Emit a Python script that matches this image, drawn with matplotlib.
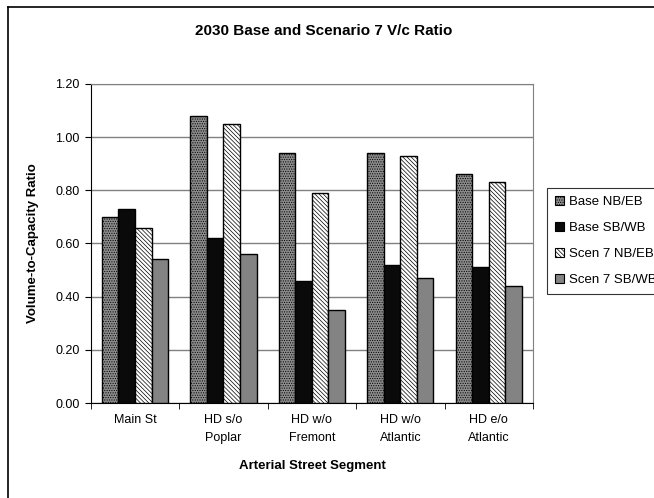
import matplotlib
matplotlib.use("Agg")
import matplotlib.pyplot as plt
import numpy as np
from matplotlib.patches import Patch
from matplotlib.lines import Line2D

plt.rcParams['font.family'] = ['Liberation Sans', 'DejaVu Sans']
plt.rcParams['hatch.linewidth'] = 0.5

categories = ["Main St", "HD s/o\nPoplar", "HD w/o\nFremont", "HD w/o\nAtlantic", "HD e/o\nAtlantic"]
series_names = ["Base NB/EB", "Base SB/WB", "Scen 7 NB/EB", "Scen 7 SB/WB"]
base_nb = [0.70, 1.08, 0.94, 0.94, 0.86]
base_sb = [0.73, 0.62, 0.46, 0.52, 0.51]
scen_nb = [0.66, 1.05, 0.79, 0.93, 0.83]
scen_sb = [0.54, 0.56, 0.35, 0.47, 0.44]
yticks = [0.0, 0.2, 0.4, 0.6, 0.8, 1.0, 1.2]

styles = [
    dict(facecolor="#8c8c8c", hatch="......."),
    dict(facecolor="#0a0a0a", hatch=None),
    dict(facecolor="#ffffff", hatch="\\\\\\\\\\\\\\\\"),
    dict(facecolor="#838383", hatch=None),
]

W, H = 654, 498
fig = plt.figure(figsize=(W / 100, H / 100), dpi=100)
ax = fig.add_axes([90.7 / W, 1 - 403 / H, (533 - 90.7) / W, (403 - 84) / H])

x = np.arange(len(categories))
bw = 0.1875
data = [base_nb, base_sb, scen_nb, scen_sb]
handles = []
for i, (vals, st, name) in enumerate(zip(data, styles, series_names)):
    ax.bar(x + (i - 1.5) * bw, vals, width=bw, facecolor=st["facecolor"],
           edgecolor="black", hatch=st["hatch"], linewidth=1.0, zorder=3)
    handles.append(Patch(facecolor=st["facecolor"], edgecolor="black",
                         hatch=st["hatch"], linewidth=0.8, label=name))

ax.set_xlim(-0.5, len(categories) - 0.5)
ax.set_ylim(0, 1.2)
ax.set_yticks(yticks)
ax.set_yticklabels([f"{v:.2f}" for v in yticks], fontsize=9)
ax.yaxis.grid(True, color="#808080", linewidth=1.0, zorder=0)
ax.set_axisbelow(True)
ax.set_xticks(x)
ax.set_xticklabels(categories, fontsize=9, linespacing=1.6)
ax.tick_params(axis="x", length=0, pad=8)
ax.set_xticks(np.arange(len(categories) + 1) - 0.5, minor=True)
ax.tick_params(axis="x", which="minor", length=4, direction="out", color="black")
ax.tick_params(axis="y", length=4, direction="out", color="black", pad=4)
for s in ["top", "right"]:
    ax.spines[s].set_color("#808080")
for s in ["left", "bottom"]:
    ax.spines[s].set_color("black")

fig.text(324 / W, 1 - 31 / H, "2030 Base and Scenario 7 V/c Ratio",
         ha="center", va="center", fontsize=11, fontweight="bold")
fig.text(312 / W, 1 - 466 / H, "Arterial Street Segment",
         ha="center", va="center", fontsize=9.5, fontweight="bold")
fig.text(33 / W, 1 - 243 / H, "Volume-to-Capacity Ratio", rotation=90,
         ha="center", va="center", fontsize=9.5, fontweight="bold")

# outer chart border (left and top visible)
fig.add_artist(Line2D([8 / W, 8 / W], [0, 1 - 7 / H], transform=fig.transFigure,
                      color="black", linewidth=1.2))
fig.add_artist(Line2D([8 / W, 1], [1 - 7 / H, 1 - 7 / H], transform=fig.transFigure,
                      color="black", linewidth=1.2))

leg = fig.legend(handles=handles, loc="upper left",
                 bbox_to_anchor=(547 / W, 1 - 188 / H), fontsize=9.5,
                 frameon=True, fancybox=False, edgecolor="black",
                 handlelength=0.7, handleheight=0.7, handletextpad=0.4,
                 labelspacing=1.05, borderpad=0.6, borderaxespad=0)
leg.get_frame().set_linewidth(0.8)

fig.savefig("out.png", dpi=100)
